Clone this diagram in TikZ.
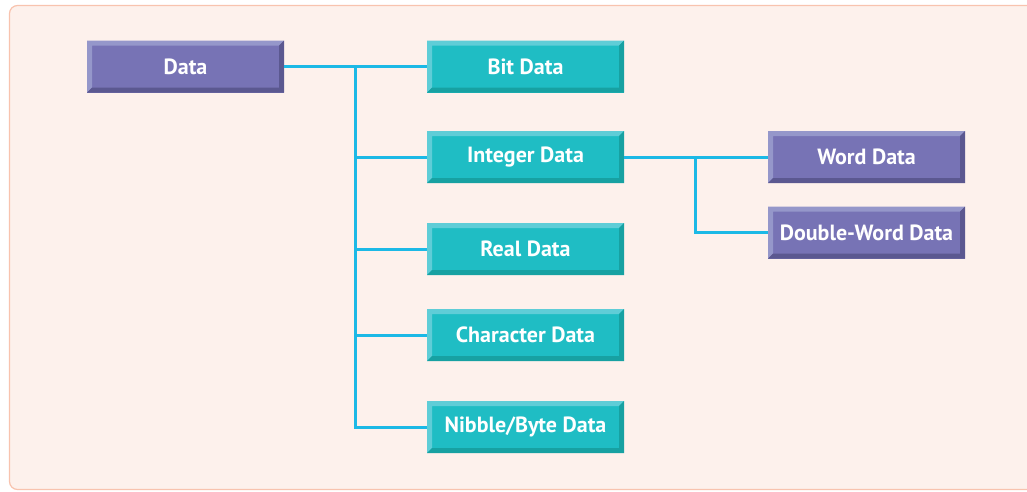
\documentclass[tikz,border=0pt]{standalone}
\usepackage{fontspec}
\setsansfont{PT Sans}
\usepackage{tikz}
\usetikzlibrary{positioning}

\definecolor{bgfill}{HTML}{FDF1EC}
\definecolor{bgline}{HTML}{F8C3AE}
\definecolor{wire}{HTML}{1CB9E6}
\definecolor{purpface}{HTML}{7773B5}
\definecolor{purplight}{HTML}{9597CA}
\definecolor{purpdark}{HTML}{5B5890}
\definecolor{tealface}{HTML}{1FBDC4}
\definecolor{teallight}{HTML}{5FCDD7}
\definecolor{tealdark}{HTML}{17A1A2}

\begin{document}
\begin{tikzpicture}[
        x=1pt, y=-1pt,
        bevelbox/.style 2 args = {rectangle, minimum width=197pt, minimum height=52pt, inner sep=0pt,
            fill=#1face, text=white, font=\sffamily\bfseries\fontsize{22}{22}\selectfont,
            path picture={
                \fill[#1light] (path picture bounding box.north west) -- (path picture bounding box.north east)
                    -- ++(-5pt,-5pt) -- ([shift={(5pt,-5pt)}]path picture bounding box.north west)
                    -- ([shift={(5pt,5pt)}]path picture bounding box.south west) -- (path picture bounding box.south west) -- cycle;
                \fill[#1dark] (path picture bounding box.south west) -- (path picture bounding box.south east)
                    -- (path picture bounding box.north east) -- ++(-5pt,-5pt)
                    -- ([shift={(-5pt,5pt)}]path picture bounding box.south east)
                    -- ([shift={(5pt,5pt)}]path picture bounding box.south west) -- cycle;
            }},
        purpbox/.style = {bevelbox={purp}{}},
        tealbox/.style = {bevelbox={teal}{}},
        link/.style = {draw=wire, line width=3pt}
    ]

    % background panel
    \useasboundingbox (0,0) rectangle (1027,491);
    \draw[fill=bgfill, draw=bgline, line width=1.2pt, rounded corners=8pt] (9.5,5.5) rectangle (1040,489.5);

    % root
    \node [purpbox] (data) at (185.5,66.5) {Data};

    % first level
    \node [tealbox] (bit)  at (525.5,66.5)  {Bit Data};
    \node [tealbox] (int)  at (525.5,157)   {Integer Data};
    \node [tealbox] (real) at (525.5,249)   {Real Data};
    \node [tealbox] (char) at (525.5,335)   {Character Data};
    \node [tealbox] (nib)  at (525.5,427)   {Nibble/Byte Data};

    % second level
    \node [purpbox] (word)  at (866.5,157)   {Word Data};
    \node [purpbox] (dword) at (866.5,232.5) {Double-Word Data};

    % connectors
    \coordinate (trunk) at (355,66.5);
    \coordinate (split) at (695,157);
    \draw[link] (data.east) -- (bit.west);
    \draw[link] (trunk) |- (nib.west);
    \foreach \n in {int, real, char}
        \draw[link] (trunk |- \n.west) -- (\n.west);
    \draw[link] (int.east) -- (word.west);
    \draw[link] (split) |- (dword.west);

\end{tikzpicture}
\end{document}
